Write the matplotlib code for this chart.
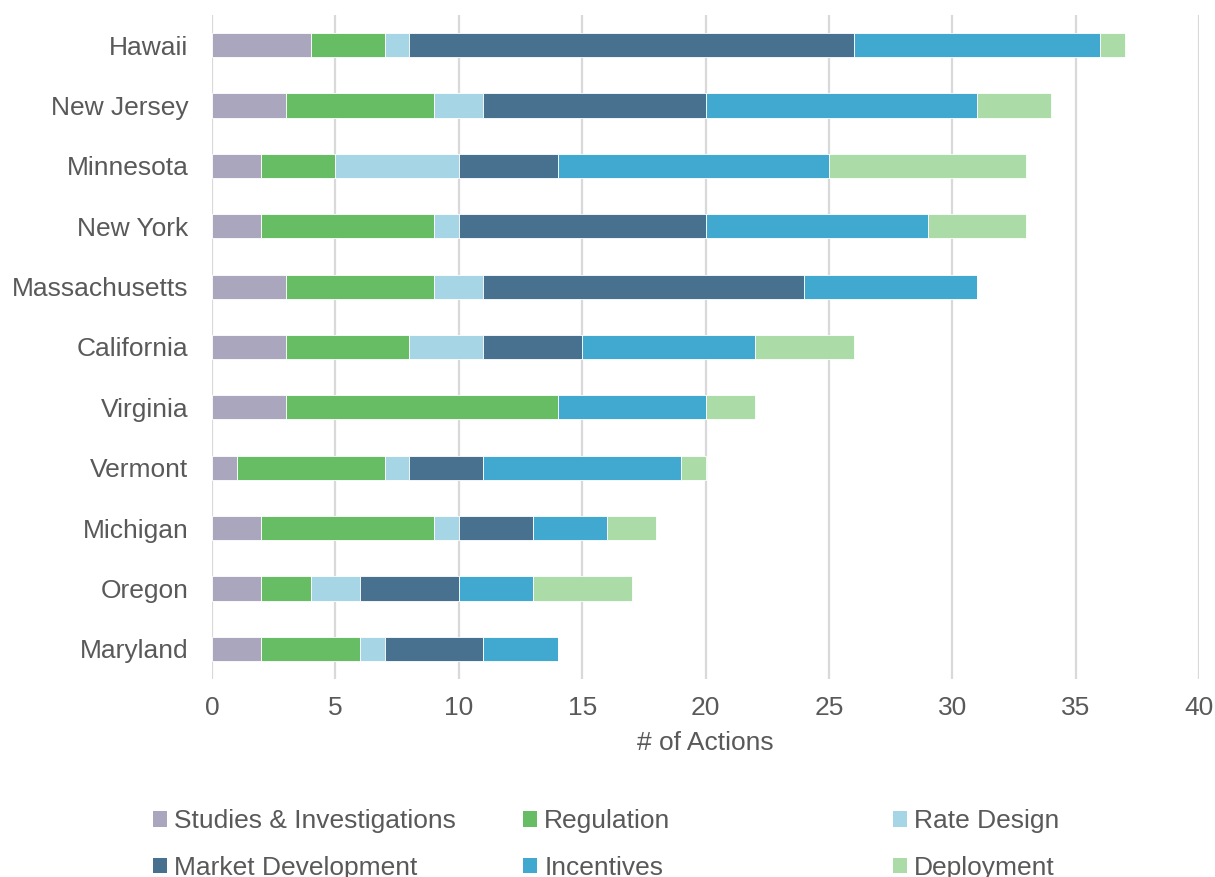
import numpy as np
import matplotlib
matplotlib.use("Agg")
import matplotlib.pyplot as plt
from matplotlib.patches import Patch

states = ["Hawaii", "New Jersey", "Minnesota", "New York", "Massachusetts",
          "California", "Virginia", "Vermont", "Michigan", "Oregon", "Maryland"]

studies = [4, 3, 2, 2, 3, 3, 3, 1, 2, 2, 2]
regulation = [3, 6, 3, 7, 6, 5, 11, 6, 7, 2, 4]
rate_design = [1, 2, 5, 1, 2, 3, 0, 1, 1, 2, 1]
market_dev = [18, 9, 4, 10, 13, 4, 0, 3, 3, 4, 4]
incentives = [10, 11, 11, 9, 7, 7, 6, 8, 3, 3, 3]
deployment = [1, 3, 8, 4, 0, 4, 2, 1, 2, 4, 0]

series = [
    ("Studies & Investigations", studies, "#A9A6BD"),
    ("Regulation", regulation, "#66BD63"),
    ("Rate Design", rate_design, "#A6D5E6"),
    ("Market Development", market_dev, "#48708F"),
    ("Incentives", incentives, "#41A8CF"),
    ("Deployment", deployment, "#ABDCA7"),
]

plt.rcParams["font.family"] = ["Liberation Sans", "DejaVu Sans"]
txt = "#595959"
fs = 19

fig = plt.figure(figsize=(12.15, 8.77), dpi=100)
ax = fig.add_axes([0.1745, 0.2258, 0.8125, 0.7571])

y = np.arange(len(states))
left = np.zeros(len(states))
handles = []
for name, vals, col in series:
    vals = np.array(vals, dtype=float)
    ax.barh(y, vals, left=left, height=0.4, color=col, edgecolor="white",
            linewidth=0.6, zorder=3)
    left += vals
    handles.append(Patch(facecolor=col, edgecolor="none", label=name))

ax.set_ylim(len(states) - 0.5, -0.5)
ax.set_xlim(0, 40)
ax.set_xticks(np.arange(0, 41, 5))
ax.set_yticks(y)
ax.set_yticklabels(states)
ax.xaxis.grid(True, color="#d9d9d9", linewidth=1.6, zorder=0)
ax.set_axisbelow(True)
for s in ax.spines.values():
    s.set_visible(False)
ax.tick_params(axis="both", length=0, labelsize=fs, labelcolor=txt)
ax.tick_params(axis="x", pad=12)
ax.tick_params(axis="y", pad=17)
ax.set_xlabel("# of Actions", fontsize=fs, color=txt, labelpad=8)

# legend laid out row-wise in three fixed columns
cols = [(0.1259, [handles[0], handles[3]]),
        (0.4305, [handles[1], handles[4]]),
        (0.735, [handles[2], handles[5]])]
for x0, hs in cols:
    fig.legend(handles=hs, loc="upper left", bbox_to_anchor=(x0, 0.077),
               frameon=False, fontsize=fs, labelcolor=txt, handlelength=0.53,
               handleheight=0.53, handletextpad=0.27, labelspacing=0.85,
               borderaxespad=0, borderpad=0)

fig.savefig("out.png", dpi=100)
